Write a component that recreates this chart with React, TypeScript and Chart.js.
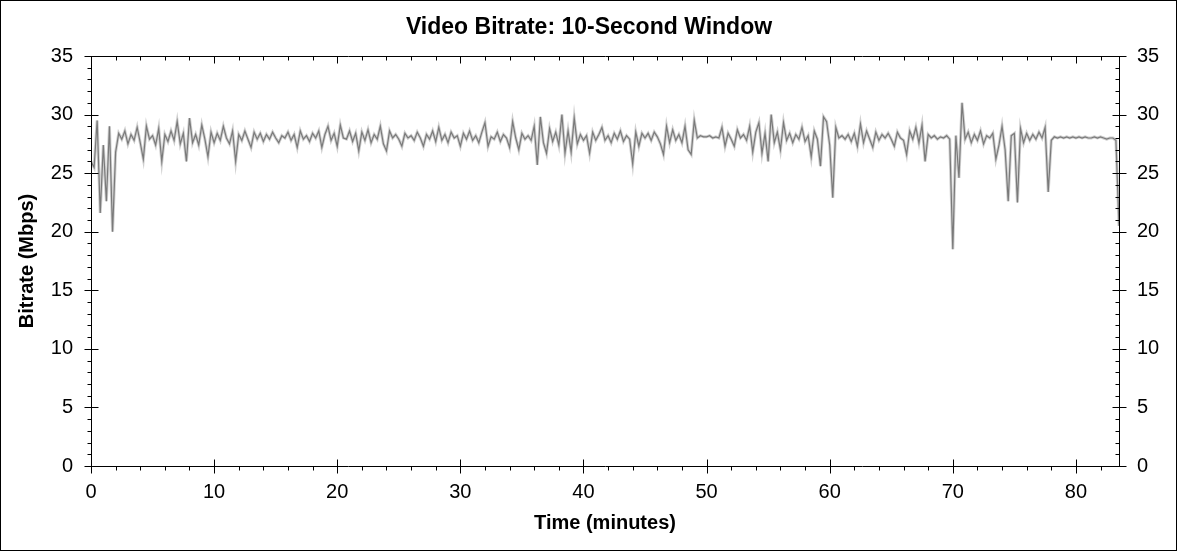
import { useEffect, useRef } from 'react';
import { Chart, registerables } from 'chart.js';

Chart.register(...registerables);

const FONT = "'Liberation Sans', Arial, sans-serif";

// one reading every quarter of a minute, from 0 to 83.5 min
const STEP_MINUTES = 0.25;
const X_MAX = 83.5;
const X_TICKS = [0, 10, 20, 30, 40, 50, 60, 70, 80];
const Y_TICKS = [0, 5, 10, 15, 20, 25, 30, 35];
const X_MINOR_STEP = 2;
const Y_MINOR_STEP = 1;

// Mbps, 20 readings (5 minutes) per row
const bitrate = [
  26.0, 25.5, 29.5, 21.6, 27.4, 22.6, 29.0, 20.0, 26.8, 28.4, 27.9, 28.6, 27.5, 28.3, 27.8, 28.9, 27.6, 26.2, 29.0, 27.9,
  28.2, 27.4, 28.8, 26.0, 28.3, 27.7, 28.6, 27.8, 29.4, 27.5, 28.4, 26.0, 29.7, 27.6, 28.3, 27.4, 29.1, 27.9, 26.4, 28.5,
  27.6, 28.4, 27.8, 29.0, 28.0, 27.5, 28.6, 26.0, 28.3, 27.8, 28.6, 27.9, 27.2, 28.5, 27.9, 28.4, 27.7, 28.3, 27.9, 28.5,
  28.0, 27.6, 28.2, 28.0, 28.5, 27.8, 28.3, 27.2, 28.6, 27.9, 28.2, 27.7, 28.4, 28.0, 28.6, 27.2, 28.3, 29.0, 27.8, 28.4,
  27.3, 29.1, 28.0, 27.9, 28.6, 27.7, 28.4, 26.9, 28.5, 27.8, 28.7, 27.6, 28.3, 27.9, 29.0, 27.5, 26.9, 28.6, 28.0, 28.3,
  27.9, 27.3, 28.4, 28.0, 28.2, 27.8, 28.5, 28.0, 27.3, 28.3, 27.9, 28.6, 27.7, 28.9, 27.8, 28.3, 27.6, 28.5, 28.0, 28.2,
  27.3, 28.4, 27.9, 28.6, 27.8, 28.2, 27.6, 28.5, 29.3, 27.3, 28.1, 27.9, 28.5, 27.7, 28.3, 28.0, 27.2, 29.4, 28.0, 27.0,
  28.4, 27.9, 28.2, 27.8, 29.0, 25.7, 29.8, 27.6, 26.7, 28.8, 27.7, 28.5, 27.4, 30.0, 26.7, 28.6, 26.8, 29.7, 27.5, 28.3,
  27.8, 28.2, 26.7, 28.5, 27.8, 28.3, 28.9, 27.8, 28.2, 27.6, 28.4, 27.9, 28.6, 27.7, 28.2, 27.9, 25.8, 28.5, 27.3, 28.4,
  28.0, 28.4, 27.8, 28.5, 28.1, 27.5, 26.6, 29.0, 27.6, 28.7, 27.8, 28.3, 27.6, 29.0, 27.0, 26.6, 29.5, 28.0, 28.2, 28.1,
  28.1, 28.2, 28.0, 28.1, 28.0, 28.9, 27.3, 28.4, 27.9, 27.3, 28.7, 28.0, 28.3, 27.8, 29.0, 26.8, 28.5, 29.3, 26.7, 28.4,
  26.0, 30.0, 27.6, 28.5, 27.0, 29.3, 27.8, 28.4, 27.6, 28.3, 27.9, 28.9, 27.7, 28.2, 26.4, 28.6, 27.9, 25.6, 29.8, 29.4,
  27.4, 22.9, 28.9, 28.0, 28.2, 27.9, 28.3, 27.7, 28.4, 27.3, 29.2, 27.6, 28.6, 27.9, 27.2, 28.5, 27.8, 28.3, 28.0, 28.4,
  27.9, 27.3, 28.5, 28.0, 27.8, 26.6, 28.6, 27.9, 28.9, 27.6, 29.1, 26.0, 28.3, 28.0, 28.2, 27.9, 28.1, 28.0, 28.2, 27.9,
  18.5, 28.2, 24.6, 31.0, 27.9, 28.5, 27.6, 28.3, 27.8, 28.6, 27.5, 28.2, 28.0, 28.4, 26.2, 27.4, 29.0, 27.0, 22.6, 28.2,
  28.4, 22.5, 28.8, 27.6, 28.4, 27.8, 28.3, 27.9, 28.5, 28.0, 28.9, 23.4, 27.8, 28.1, 28.0, 28.1, 28.0, 28.1, 28.0, 28.1,
  28.0, 28.1, 28.0, 28.1, 28.0, 28.0, 28.1, 28.0, 28.1, 28.0, 27.9, 28.0, 28.0, 27.8, 20.5,
];

const boxedAxes = {
  id: 'boxedAxes',
  afterDraw(chart: any) {
    const { ctx, chartArea, scales } = chart;
    const L = Math.round(chartArea.left) + 0.5;
    const R = Math.round(chartArea.right) + 0.5;
    const T = Math.round(chartArea.top) + 0.5;
    const B = Math.round(chartArea.bottom) + 0.5;
    const yMax = Y_TICKS[Y_TICKS.length - 1];

    ctx.save();
    ctx.strokeStyle = '#000';
    ctx.lineWidth = 1;
    ctx.beginPath();
    ctx.rect(L, T, R - L, B - T);

    for (let v = 0; v <= X_MAX; v += X_MINOR_STEP) {
      const px = Math.round(scales.x.getPixelForValue(v)) + 0.5;
      if (X_TICKS.includes(v)) {
        ctx.moveTo(px, B - 7);
        ctx.lineTo(px, B + 7);
        ctx.moveTo(px, T);
        ctx.lineTo(px, T + 7);
      } else {
        ctx.moveTo(px, B);
        ctx.lineTo(px, B + 4);
        ctx.moveTo(px, T);
        ctx.lineTo(px, T + 4);
      }
    }
    for (let v = 0; v <= yMax; v += Y_MINOR_STEP) {
      const py = Math.round(scales.y.getPixelForValue(v)) + 0.5;
      if (Y_TICKS.includes(v)) {
        ctx.moveTo(L - 7, py);
        ctx.lineTo(L + 7, py);
        ctx.moveTo(R - 7, py);
        ctx.lineTo(R + 7, py);
      } else {
        ctx.moveTo(L - 4, py);
        ctx.lineTo(L, py);
        ctx.moveTo(R - 4, py);
        ctx.lineTo(R, py);
      }
    }
    ctx.stroke();

    // outer frame
    ctx.strokeRect(0.5, 0.5, chart.width - 2, chart.height - 2);
    ctx.restore();
  },
};

export default function App() {
  const canvasRef = useRef<HTMLCanvasElement>(null);
  const chartRef = useRef<Chart | null>(null);

  useEffect(() => {
    if (!canvasRef.current) return;
    if (chartRef.current) chartRef.current.destroy();

    const points = bitrate.map((v, i) => ({ x: i * STEP_MINUTES, y: v }));
    const yMax = Y_TICKS[Y_TICKS.length - 1];

    const yScale = (position: 'left' | 'right', width: number) => ({
      type: 'linear' as const,
      position,
      min: 0,
      max: yMax,
      afterBuildTicks: (s: any) => {
        s.ticks = Y_TICKS.map((v) => ({ value: v }));
      },
      afterFit: (s: any) => {
        s.width = width;
      },
      grid: { display: false, drawTicks: false },
      border: { display: false },
      ticks: { color: '#000', padding: 18, font: { family: FONT, size: 20 } },
    });

    chartRef.current = new Chart(canvasRef.current, {
      type: 'line',
      data: {
        datasets: [
          {
            data: points,
            borderColor: '#7a7a7a',
            borderWidth: 1.2,
            pointRadius: 0,
            tension: 0,
          },
          {
            data: points,
            borderColor: '#d0d0d0',
            borderWidth: 3,
            pointRadius: 0,
            tension: 0,
          },
        ],
      },
      options: {
        animation: false,
        responsive: true,
        maintainAspectRatio: false,
        layout: { padding: 0 },
        plugins: {
          legend: { display: false },
          tooltip: { enabled: false },
          title: {
            display: true,
            text: 'Video Bitrate: 10-Second Window',
            color: '#000',
            font: { family: FONT, size: 23, weight: 'bold' },
            padding: { top: 13.5, bottom: 14.9 },
          },
        },
        scales: {
          x: {
            type: 'linear',
            min: 0,
            max: X_MAX,
            afterBuildTicks: (s: any) => {
              s.ticks = X_TICKS.map((v) => ({ value: v }));
            },
            afterFit: (s: any) => {
              s.height = 86;
            },
            grid: { display: false, drawTicks: false },
            border: { display: false },
            ticks: { color: '#000', padding: 14, maxRotation: 0, font: { family: FONT, size: 20 } },
            title: {
              display: true,
              text: 'Time (minutes)',
              color: '#000',
              font: { family: FONT, size: 20, weight: 'bold' },
              padding: { top: 0, bottom: 17 },
            },
          },
          y: {
            ...yScale('left', 91),
            title: {
              display: true,
              text: 'Bitrate (Mbps)',
              color: '#000',
              font: { family: FONT, size: 20, weight: 'bold' },
              padding: { top: 15, bottom: 0 },
            },
          },
          y2: yScale('right', 59),
        },
      },
      plugins: [boxedAxes],
    });

    return () => {
      if (chartRef.current) {
        chartRef.current.destroy();
        chartRef.current = null;
      }
    };
  }, []);

  return (
    <div style={{ position: 'absolute', left: 0, top: 0, width: 1178, height: 552, background: '#fff' }}>
      <canvas ref={canvasRef} />
    </div>
  );
}
